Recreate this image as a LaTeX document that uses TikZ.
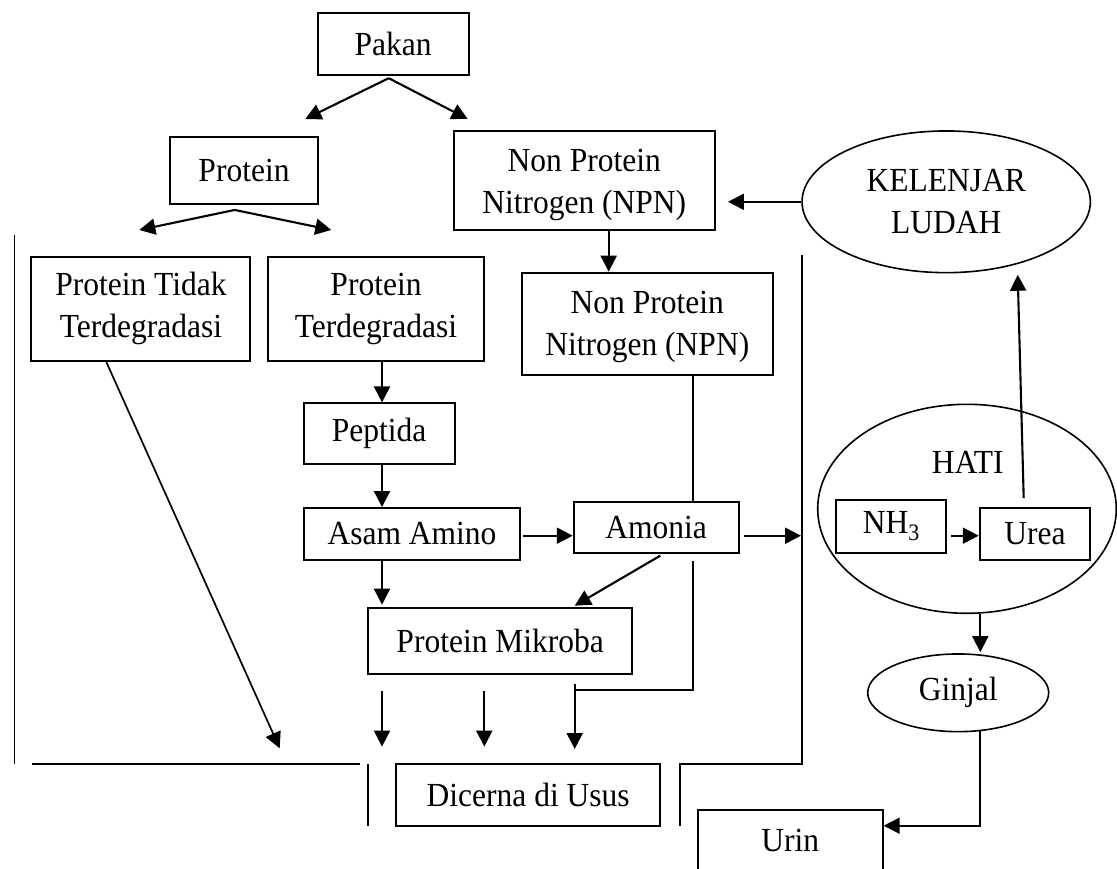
\documentclass[tikz,border=0pt]{standalone}
\usepackage{fontspec}
\setmainfont{Liberation Serif}[FakeStretch=0.935]
\usetikzlibrary{arrows.meta,shapes.geometric,calc}
\begin{document}
\begin{tikzpicture}[x=1pt,y=-1pt,
  txt/.style={font=\fontsize{33.7}{42}\selectfont},
  box/.style={draw,line width=1.9pt,inner sep=0pt,align=center,txt},
  oval/.style={draw,ellipse,line width=1.6pt,inner sep=0pt,align=center,txt},
  arr/.style={line width=2.1pt,-{Triangle[length=16pt,width=16pt]}},
  ln/.style={line width=1.6pt},
  lbl/.style={inner sep=0pt,txt}]
\useasboundingbox (0,0) rectangle (1117,869);
\clip (0,0) rectangle (1117,869);

% nodes
\node[box,minimum width=151,minimum height=62.3] (pakan) at (393.2,43.8) {Pakan};
\node[box,minimum width=148.6,minimum height=66.4] (protein) at (244,170.5) {Protein};
\node[box,minimum width=261,minimum height=99] (npn1) at (584.2,180.5) {\rule{0pt}{32pt}Non Protein\\Nitrogen (NPN)};
\node[box,minimum width=219,minimum height=104.3] (ptt) at (140.9,308.8) {Protein Tidak\\Terdegradasi};
\node[box,minimum width=216.6,minimum height=104.3] (pt) at (376,308.8) {Protein\\Terdegradasi};
\node[box,minimum width=250.7,minimum height=102.3] (npn2) at (647.3,323.8) {\rule{0pt}{28pt}Non Protein\\Nitrogen (NPN)};
\node[box,minimum width=151,minimum height=60.7] (peptida) at (379.2,433.7) {Peptida};
\node[box,minimum width=216.6,minimum height=52] (aa) at (412,534) {Asam Amino};
\node[box,minimum width=165,minimum height=51.6] (amonia) at (656.2,527.5) {Amonia};
\node[box,minimum width=264.3,minimum height=66.3] (pm) at (500.2,640.8) {Protein Mikroba};
\node[box,minimum width=264.3,minimum height=61.7] (dicerna) at (528.2,794.8) {Dicerna di Usus};
\node[box,minimum width=185,minimum height=62] (urin) at (790.2,841) {Urin};

\node[oval,minimum width=288.3,minimum height=141.7] (kel) at (946.2,201.8) {KELENJAR\\LUDAH};
\node[oval,minimum width=298.6,minimum height=209] (hati) at (967,508.8) {};
\node[lbl] (hatilbl) at (967.8,462.3) {HATI};
\node[box,minimum width=110,minimum height=53.6] (nh3) at (891.3,526.5) {NH\textsubscript{3}};
\node[box,minimum width=110.6,minimum height=52] (urea) at (1035,534) {Urea};
\node[oval,minimum width=181,minimum height=77.7] (ginjal) at (958.2,692.8) {Ginjal};

% helper coordinates
\coordinate (pL) at (305.3,119);
\coordinate (pR) at (467.7,119);
\coordinate (qL) at (139.3,230);
\coordinate (qR) at (331.3,230);
\coordinate (xa) at (382,0);
\coordinate (xc) at (692.7,0);
\coordinate (xd) at (484.3,0);
\coordinate (xe) at (608.7,0);
\coordinate (xf) at (980.3,0);
\coordinate (ya) at (0,535.7);
\coordinate (yu) at (0,825.7);
\coordinate (wa) at (801,535.7);
\coordinate (mtip) at (574.7,605.7);
\coordinate (c1) at (692.7,689.7);
\coordinate (c2) at (574.7,689.7);
\coordinate (d4) at (574.7,749);
\coordinate (tt) at (279.7,748.3);

% walls
\draw[ln] (14.5,235) -- (14.5,764);
\draw[ln] (32,764) -- (359.7,764);
\draw[ln] (368,764) -- (368,825.7);
\draw[ln] (802,255.3) -- (802,764) -- (679.7,764) -- (679.7,825.7);

% connectors
\draw[arr] ($(pakan.south)+(-4.5,2.3)$) -- (pL);
\draw[arr] ($(pakan.south)+(-4.5,2.3)$) -- (pR);
\draw[arr] ($(protein.south)+(-9.3,5.3)$) -- (qL);
\draw[arr] ($(protein.south)+(-9.3,5.3)$) -- (qR);
\draw[arr] (pt.south -| xa) -- (peptida.north -| xa);
\draw[arr] (peptida.south -| xa) -- (aa.north -| xa);
\draw[arr] (aa.south -| xa) -- ($(pm.north -| xa)+(0,-2)$);
\draw[arr] ($(aa.east |- ya)+(1.7,0)$) -- (amonia.west |- ya);
\draw[arr] ($(amonia.south)+(4.1,1.4)$) -- (mtip);
\draw[arr] ($(amonia.east |- ya)+(4,0)$) -- (wa);
\draw[ln] (npn2.south -| xc) -- (amonia.north -| xc);
\draw[ln] ($(amonia.south -| xc)+(0,7)$) -- (c1) -- (c2);
\draw[arr] ($(c2)+(0,-5.7)$) -- (d4);
\draw[arr] ($(pm.south -| xa)+(0,16)$) -- ($(pm.south -| xa)+(0,71.7)$);
\draw[arr] ($(pm.south -| xd)+(0,16)$) -- ($(pm.south -| xd)+(0,71.7)$);
\draw[arr,line width=1.7pt] ($(ptt.south)+(-34.6,0)$) -- (tt);
\draw[arr] (kel.west) -- ($(npn1.east |- kel.west)+(12.3,0)$);
\draw[arr] (npn1.south -| xe) -- (npn2.north -| xe);
\draw[arr] ($(urea.north)+(-11.3,-9)$) -- ($(kel.south)+(71.5,1.3)$);
\draw[arr] ($(nh3.east |- ya)+(4,0)$) -- (urea.west |- ya);
\draw[arr] (hati.south -| xf) -- ($(ginjal.north -| xf)+(0,-1)$);
\draw[arr,line width=1.8pt] ($(ginjal.south -| xf)+(0,-2)$) |- (urin.east |- yu);
\end{tikzpicture}
\end{document}
